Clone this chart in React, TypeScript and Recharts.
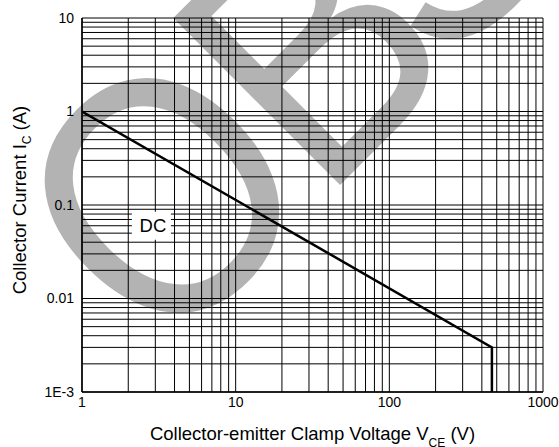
import {
  LineChart,
  Line,
  XAxis,
  YAxis,
  CartesianGrid,
  ReferenceDot,
} from "recharts";

// safe operating area curve: V_CE (V) vs I_C (A)
const voltage = [1, 465, 465];
const current = [1, 0.003, 0.001];

const xTicks = [1, 10, 100, 1000];
const yTicks = [0.001, 0.01, 0.1, 1, 10];
const yTickLabels = ["1E-3", "0.01", "0.1", "1", "10"];

// log grid: 1..9 in every decade
const xGrid = [
  1, 2, 3, 4, 5, 6, 7, 8, 9, 10, 20, 30, 40, 50, 60, 70, 80, 90, 100, 200,
  300, 400, 500, 600, 700, 800, 900, 1000,
];
const yGrid = [
  0.001, 0.002, 0.003, 0.004, 0.005, 0.006, 0.007, 0.008, 0.009, 0.01, 0.02,
  0.03, 0.04, 0.05, 0.06, 0.07, 0.08, 0.09, 0.1, 0.2, 0.3, 0.4, 0.5, 0.6, 0.7,
  0.8, 0.9, 1, 2, 3, 4, 5, 6, 7, 8, 9, 10,
];

const dcLabel = { x: 2.85, y: 0.06, text: "DC" };

const data = voltage.map((v, i) => ({ v, i: current[i] }));

const FONT = "'Liberation Sans', Arial, Helvetica, sans-serif";

function XTitle({ viewBox }: any) {
  const cx = viewBox.x + viewBox.width / 2;
  const y = viewBox.y + 48;
  return (
    <text x={cx} y={y} textAnchor="middle" fontSize={18.5} fontFamily={FONT} fill="#000">
      <tspan>Collector-emitter Clamp Voltage V</tspan>
      <tspan fontSize={12} dy={7}>CE</tspan>
      <tspan dy={-7}> (V)</tspan>
    </text>
  );
}

function YTitle({ viewBox }: any) {
  const x = 26;
  const cy = viewBox.y + viewBox.height / 2 - 5;
  return (
    <text
      x={x}
      y={cy}
      textAnchor="middle"
      fontSize={18.5}
      fontFamily={FONT}
      fill="#000"
      transform={`rotate(-90, ${x}, ${cy})`}
    >
      <tspan>Collector Current I</tspan>
      <tspan fontSize={12} dy={5}>C</tspan>
      <tspan dy={-5}> (A)</tspan>
    </text>
  );
}

function DcBox(props: any) {
  const { cx, cy } = props;
  return (
    <g>
      <rect x={cx - 20} y={cy - 14} width={39} height={28} fill="#fff" />
      <text
        x={cx + 1}
        y={cy + 6.5}
        textAnchor="middle"
        fontSize={18.5}
        fontFamily={FONT}
        fill="#000"
      >
        {dcLabel.text}
      </text>
    </g>
  );
}

export default function App() {
  return (
    <div style={{ position: "absolute", left: 0, top: 0, width: 559, height: 447, background: "#fff" }}>
      {/* OBSOLETE stamp behind the chart */}
      <svg
        width={559}
        height={447}
        style={{ position: "absolute", left: 0, top: 0 }}
      >
        <g transform="translate(162,363) rotate(-45) scale(0.89,1)">
          <text x={0} y={0} fontSize={343} fontFamily={FONT} fill="#b3b3b3">
            <tspan>O</tspan>
            <tspan dx={-12}>B</tspan>
            <tspan dx={-34} dy={-6}>SOLETE</tspan>
          </text>
        </g>
      </svg>
      <div style={{ position: "absolute", left: 0, top: 0 }}>
        <LineChart
          width={559}
          height={447}
          data={data}
          margin={{ top: 18, right: 16, left: 0, bottom: 0 }}
        >
          <CartesianGrid
            stroke="#000"
            strokeWidth={1}
            horizontalValues={yGrid}
            verticalValues={xGrid}
          />
          <XAxis
            dataKey="v"
            type="number"
            scale="log"
            domain={[1, 1000]}
            ticks={xTicks}
            allowDataOverflow
            height={55}
            tickLine={false}
            tickSize={3}
            tickMargin={2}
            axisLine={{ stroke: "#000", strokeWidth: 1.5 }}
            tick={{ fill: "#000", fontSize: 14, fontFamily: FONT }}
            interval={0}
            label={<XTitle />}
          />
          <YAxis
            type="number"
            scale="log"
            domain={[0.001, 10]}
            ticks={yTicks}
            allowDataOverflow
            width={82}
            tickLine={false}
            tickSize={6}
            tickMargin={2}
            axisLine={{ stroke: "#000", strokeWidth: 1.5 }}
            tick={{ fill: "#000", fontSize: 14, fontFamily: FONT }}
            interval={0}
            tickFormatter={(t: number) => yTickLabels[yTicks.indexOf(t)] ?? String(t)}
            label={<YTitle />}
          />
          <ReferenceDot
            x={dcLabel.x}
            y={dcLabel.y}
            r={0}
            ifOverflow="visible"
            shape={(p: any) => <DcBox {...p} />}
          />
          <Line
            type="linear"
            dataKey="i"
            stroke="#000"
            strokeWidth={2.5}
            dot={false}
            isAnimationActive={false}
          />
        </LineChart>
      </div>
    </div>
  );
}
